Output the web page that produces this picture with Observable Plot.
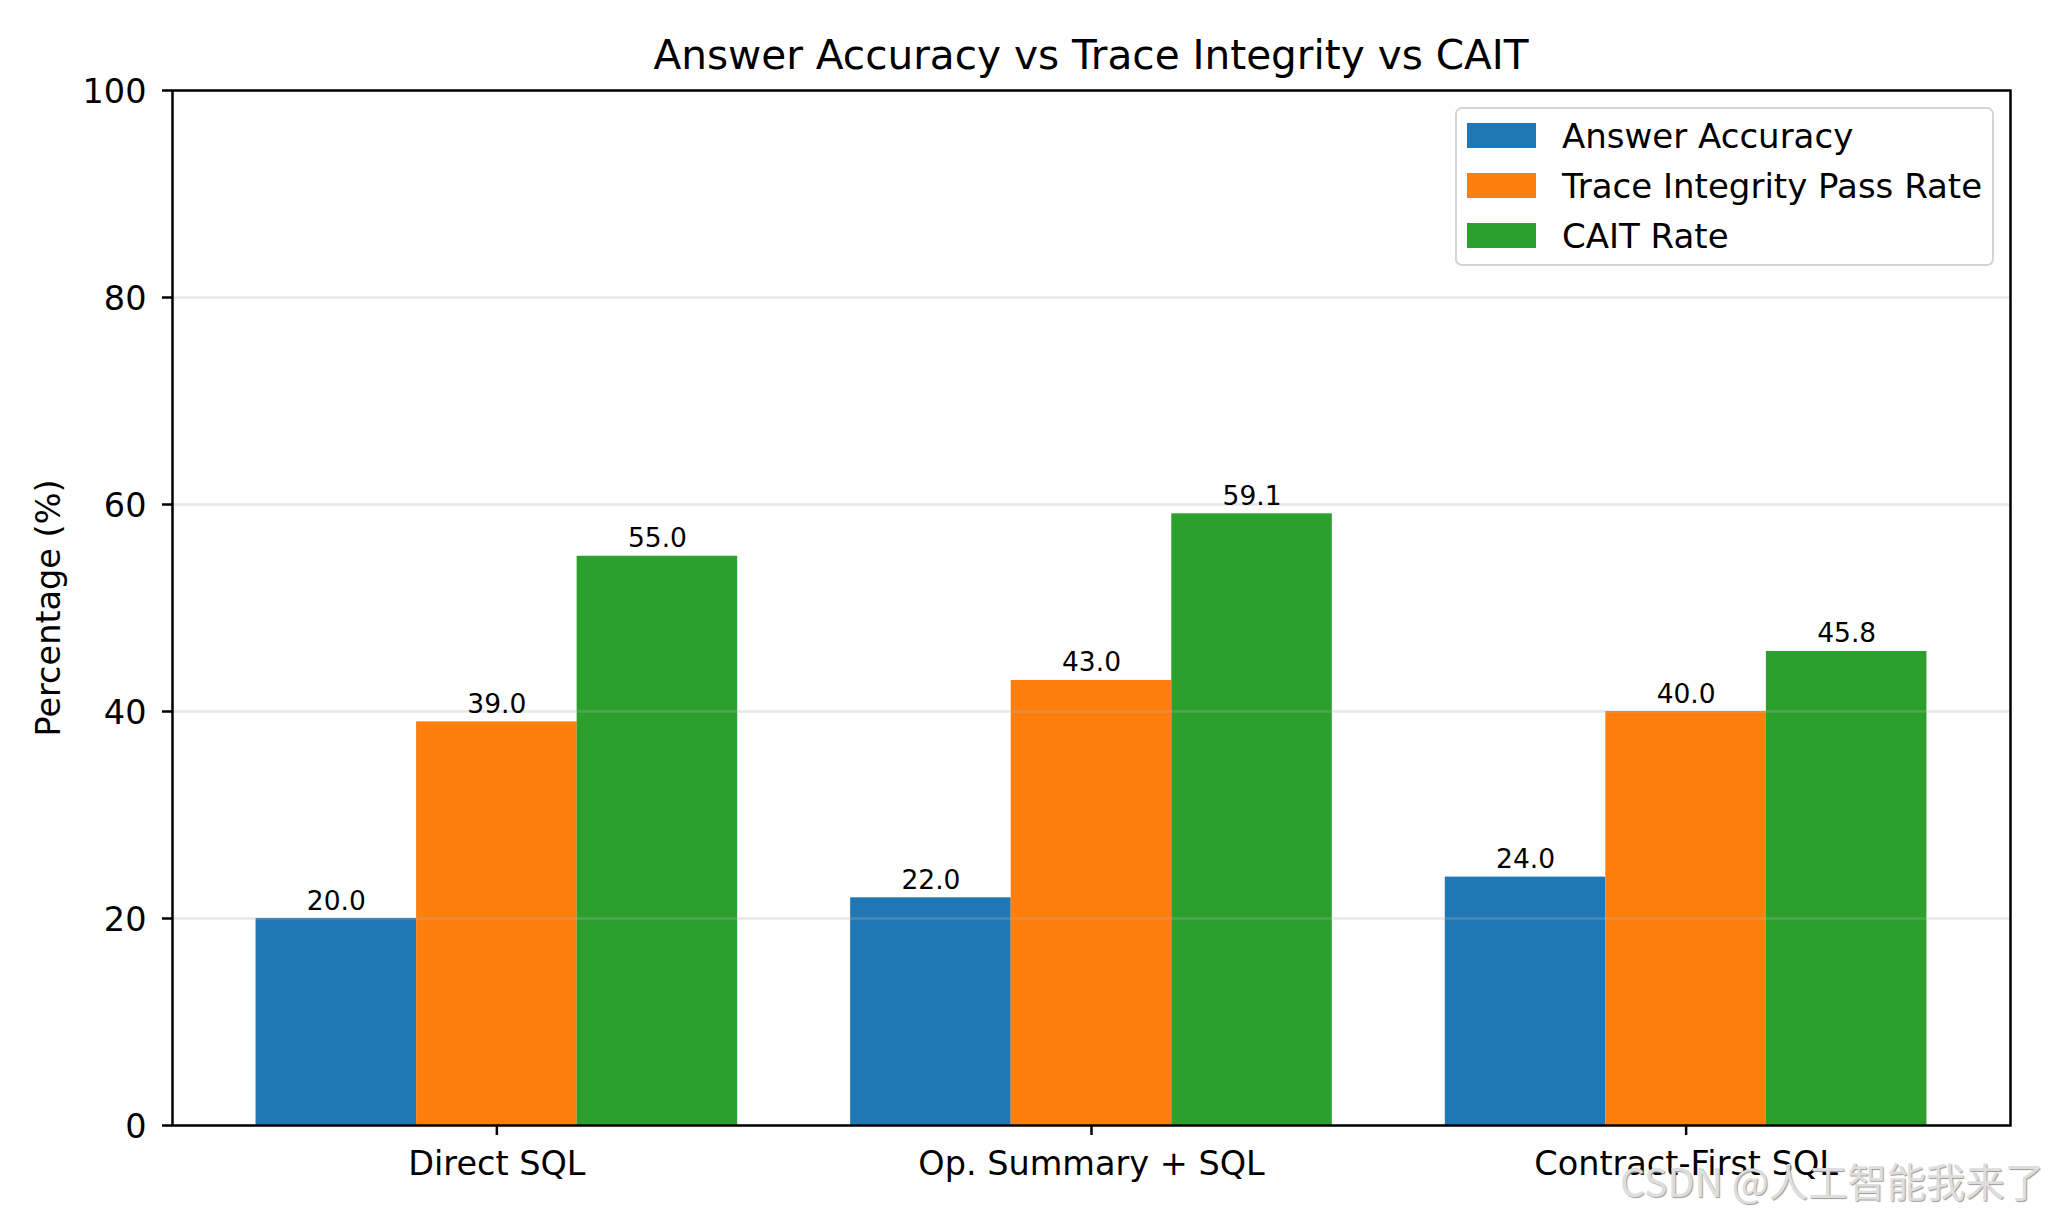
<!DOCTYPE html>
<html>
<head>
<meta charset="utf-8">
<script src="https://cdn.jsdelivr.net/npm/d3@7"></script>
<script src="https://cdn.jsdelivr.net/npm/@observablehq/plot@0.6"></script>
<style>
  html, body { margin: 0; padding: 0; background: white; overflow: hidden; }
  #wrap { position: relative; width: 2048px; height: 1219px; font-family: "DejaVu Sans", sans-serif; color: black; }
  #title { box-sizing: border-box; height: 76px; padding: 35px 38px 0 172px; font-size: 40.6px; line-height: 40px; text-align: center; white-space: nowrap; }
  #chart svg { display: block; }
  #legend { position: absolute; left: 1455px; top: 107px; width: 539px; height: 159px; box-sizing: border-box;
            border: 2px solid rgba(204,204,204,0.85); border-radius: 7px; background: rgba(255,255,255,0.8); }
  .row { position: absolute; left: 10px; height: 50px; display: flex; align-items: center; }
  .sw { width: 69px; height: 25px; }
  .lab { margin-left: 26px; font-size: 34px; line-height: 34px; white-space: nowrap; }
  #wm { position: absolute; left: 1620px; top: 1159px; font-family: "Noto Sans CJK SC", sans-serif; font-size: 39.3px; line-height: 41px;
        color: #dedede; text-shadow: 1px 1px 1px #9a9a9a; white-space: nowrap; }
</style>
</head>
<body>
<div id="wrap">
  <div id="title"></div>
  <div id="chart"></div>
  <div id="legend"></div>
  <div id="wm"></div>
</div>
<script>
// ---- data ----
const title = "Answer Accuracy vs Trace Integrity vs CAIT";
const yLabel = "Percentage (%)";
const categories = ["Direct SQL", "Op. Summary + SQL", "Contract-First SQL"];
const seriesNames = ["Answer Accuracy", "Trace Integrity Pass Rate", "CAIT Rate"];
const answerAccuracy = [20.0, 22.0, 24.0];
const traceIntegrity = [39.0, 43.0, 40.0];
const caitRate = [55.0, 59.1, 45.8];
const yTicks = [0, 20, 40, 60, 80, 100];
const colors = ["#1f77b4", "#ff7f0e", "#2ca02c"];
const watermark = "CSDN @人工智能我来了";

// ---- build table ----
const barWidth = 0.27;
const seriesValues = [answerAccuracy, traceIntegrity, caitRate];
const rows = [];
seriesValues.forEach((vals, j) => {
  vals.forEach((v, i) => {
    rows.push({category: categories[i], series: seriesNames[j], value: v, xc: i + (j - 1) * barWidth});
  });
});
const lo = d3.min(rows, d => d.xc) - barWidth / 2;
const hi = d3.max(rows, d => d.xc) + barWidth / 2;
const pad = (hi - lo) * 0.05;

document.getElementById("title").textContent = title;

const chart = Plot.plot({
  width: 2048,
  height: 1143,
  marginTop: 14,
  marginBottom: 94,
  marginLeft: 172,
  marginRight: 38,
  style: {fontFamily: "DejaVu Sans", color: "black", background: "white", overflow: "visible"},
  x: {domain: [lo - pad, hi + pad]},
  y: {domain: [0, 100]},
  color: {domain: seriesNames, range: colors},
  marks: [
    Plot.rect(rows, {x1: d => d.xc - barWidth / 2, x2: d => d.xc + barWidth / 2, y1: 0, y2: "value", fill: "series"}),
    Plot.gridY(yTicks, {stroke: "#b0b0b0", strokeOpacity: 0.3, strokeWidth: 2.5}),
    Plot.text(rows, {x: "xc", y: "value", text: d => d.value.toFixed(1), dy: -9, lineAnchor: "bottom", fontSize: 26.5, fill: "black"}),
    // tick marks
    Plot.axisY(yTicks, {tickSize: 10, strokeWidth: 2.5, tickFormat: () => "", label: null}),
    // tick labels (slightly lowered, like matplotlib's center_baseline)
    Plot.axisY(yTicks, {tickSize: 0, tickPadding: 26, fontSize: 33.5, dy: 2, label: null}),
    Plot.axisY({ticks: [], tickSize: 0, fontSize: 33.5, label: yLabel, labelArrow: "none", labelAnchor: "center", labelOffset: 136}),
    Plot.axisX(categories.map((_, i) => i), {tickSize: 10, tickPadding: 16, fontSize: 33.5, strokeWidth: 2.5, tickFormat: i => categories[i], label: null}),
    Plot.frame({stroke: "black", strokeWidth: 2.5})
  ]
});
document.getElementById("chart").appendChild(chart);

// ---- legend ----
const legend = document.getElementById("legend");
seriesNames.forEach((name, j) => {
  const row = document.createElement("div");
  row.className = "row";
  row.style.top = (3.5 + 50 * j - 2) + "px";
  const sw = document.createElement("div");
  sw.className = "sw";
  sw.style.background = colors[j];
  const lab = document.createElement("div");
  lab.className = "lab";
  lab.textContent = name;
  row.appendChild(sw);
  row.appendChild(lab);
  legend.appendChild(row);
});

document.getElementById("wm").textContent = watermark;
</script>
</body>
</html>
